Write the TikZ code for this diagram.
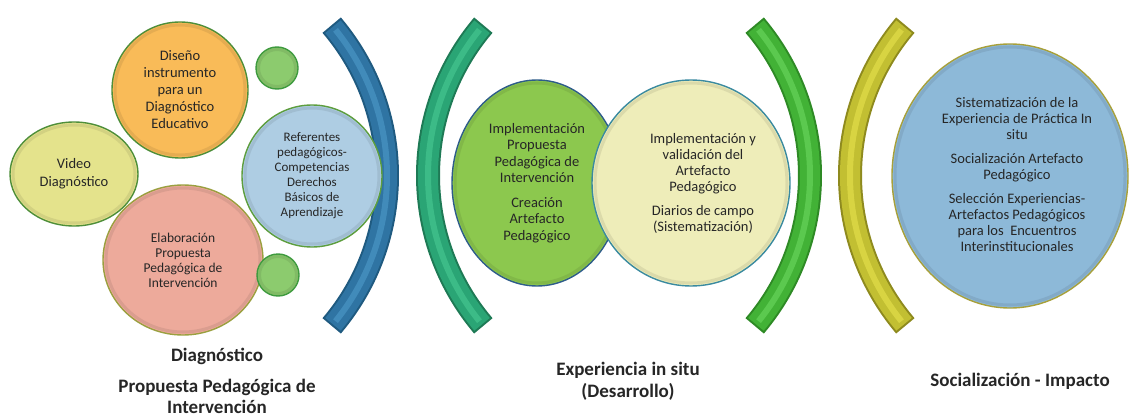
\documentclass[tikz,border=0pt]{standalone}
\usepackage{fontspec}
\setmainfont{Carlito}
\usetikzlibrary{shapes.geometric}
\definecolor{txt}{HTML}{262626}
\definecolor{orangeF}{HTML}{F9BB58}
\definecolor{greenB}{HTML}{4E8E3A}
\definecolor{smallF}{HTML}{8CCB6E}
\definecolor{smallB}{HTML}{3E9A3E}
\definecolor{videoF}{HTML}{E4E38C}
\definecolor{refF}{HTML}{AECDE3}
\definecolor{refB}{HTML}{5E9E3E}
\definecolor{pinkF}{HTML}{EDAA9B}
\definecolor{oliveB}{HTML}{9AA040}
\definecolor{midF}{HTML}{8CC84E}
\definecolor{midB}{HTML}{2E5C8A}
\definecolor{creamF}{HTML}{EEEDB9}
\definecolor{creamB}{HTML}{3A8AA0}
\definecolor{rightF}{HTML}{8DB9D8}
\definecolor{rightB}{HTML}{A8A03A}
\definecolor{blueO}{HTML}{1F5A80}\definecolor{blueM}{HTML}{2F74A3}\definecolor{blueS}{HTML}{4A95C5}
\definecolor{tealO}{HTML}{1E7A55}\definecolor{tealM}{HTML}{2AA575}\definecolor{tealS}{HTML}{45C58F}
\definecolor{grnO}{HTML}{2E8A25}\definecolor{grnM}{HTML}{42B236}\definecolor{grnS}{HTML}{66D35A}
\definecolor{yelO}{HTML}{8E8A1E}\definecolor{yelM}{HTML}{C2BF32}\definecolor{yelS}{HTML}{E2DE4A}
\newcommand\fsz[2]{\fontsize{#1}{#2}\selectfont}
% arc band: center x, start angle, end angle, outline, body, stripe
\newcommand\band[6]{%
  \draw[#4, line width=24pt, line cap=butt, line join=round]
    plot[domain=#2:#3, samples=80] ({#1+232*cos(\x)}, {175.5+232*sin(\x)});
  \draw[#5, line width=20pt, line cap=butt, line join=round]
    plot[domain=#2+0.5:#3-0.5, samples=80] ({#1+232*cos(\x)}, {175.5+232*sin(\x)});
  \draw[#6, line width=6pt, line cap=butt, line join=round, opacity=.7]
    plot[domain=#2+1.5:#3-1.5, samples=80] ({#1+232*cos(\x)}, {175.5+232*sin(\x)});
}
\newcommand\ring[4]{\draw[#4!78!black, line width=3pt, opacity=.35] (#1) ellipse [x radius=#2, y radius=#3];}
\begin{document}
\begin{tikzpicture}[x=1pt, y=-1pt,
  bub/.style={ellipse, inner sep=0pt, align=center, text=txt, line width=1.4pt},
  lbl/.style={align=center, text=txt}]
\useasboundingbox (0,0) rectangle (1129,417);
\fill[white] (0,0) rectangle (1129,417);

% arcs
\band{155}{-40.4}{40.4}{blueO}{blueM}{blueS}
\band{660}{139.6}{220.4}{tealO}{tealM}{tealS}
\band{578}{-40.4}{40.4}{grnO}{grnM}{grnS}
\band{1082}{139.6}{220.4}{yelO}{yelM}{yelS}

% left cluster
\node[bub, fill=videoF, draw=greenB, minimum width=128pt, minimum height=104pt, font=\fsz{14.5}{18}] (video) at (74,174) {Video\\Diagnóstico};
\ring{video.center}{61}{49}{videoF}
\node[bub, fill=orangeF, draw=greenB, minimum width=136pt, minimum height=136pt, font=\fsz{14.5}{17}] (diseno) at (180,90) {Diseño\\instrumento\\para un\\Diagnóstico\\Educativo};
\ring{diseno.center}{65}{65}{orangeF}
\node[bub, fill=pinkF, draw=oliveB, minimum width=160pt, minimum height=150pt, font=\fsz{13.5}{15}] (elab) at (183,260) {Elaboración\\Propuesta\\Pedagógica de\\Intervención};
\ring{elab.center}{77}{72}{pinkF}
\node[bub, fill=refF, draw=refB, minimum width=140pt, minimum height=142pt, font=\fsz{13}{15}] (refer) at (312,176) {Referentes\\pedagógicos-\\Competencias\\Derechos\\Básicos de\\Aprendizaje};
\ring{refer.center}{67}{68}{refF}
\node[bub, fill=smallF, draw=smallB, minimum width=42pt, minimum height=42pt] (dotA) at (277,68) {};
\ring{dotA.center}{18.5}{18.5}{smallF}
\node[bub, fill=smallF, draw=smallB, minimum width=42pt, minimum height=42pt] (dotB) at (278,275) {};
\ring{dotB.center}{18.5}{18.5}{smallF}

% middle cluster
\node[bub, fill=midF, draw=midB, minimum width=170pt, minimum height=206pt, font=\fsz{14.5}{16.5}] (impl) at (537,183) {Implementación\\Propuesta\\Pedagógica de\\Intervención\\[8pt]Creación\\Artefacto\\Pedagógico};
\ring{impl.center}{82}{100}{midF}
\node[bub, fill=creamF, draw=creamB, minimum width=198pt, minimum height=206pt] (valid) at (691,183) {};
\ring{valid.center}{96}{100}{creamF}
\node[align=center, text=txt, font=\fsz{14.5}{16}] (validtxt) at (703,183) {Implementación y\\validación del\\Artefacto\\Pedagógico\\[8pt]Diarios de campo\\(Sistematización)};

% right circle
\node[bub, fill=rightF, draw=rightB, minimum width=236pt, minimum height=264pt] (social) at (1010,176) {};
\ring{social.center}{115}{129}{rightF}
\node[align=center, text=txt, font=\fsz{14.5}{16}] (socialtxt) at (1017,175) {Sistematización de la\\Experiencia de Práctica In\\situ\\[8pt]Socialización Artefacto\\Pedagógico\\[8pt]Selección Experiencias-\\Artefactos Pedagógicos\\para los~ Encuentros\\Interinstitucionales};

% bottom labels
\node[lbl, font=\fsz{19}{21}\bfseries] (diag) at (217,356) {Diagnóstico};
\node[lbl, font=\fsz{19}{21}\bfseries] (prop) at (217,396) {Propuesta Pedagógica de\\Intervención};
\node[lbl, font=\fsz{19}{22}\bfseries] (exper) at (628,381) {Experiencia in situ\\(Desarrollo)};
\node[lbl, font=\fsz{19}{21}\bfseries] (socimp) at (1020,381) {Socialización - Impacto};
\end{tikzpicture}
\end{document}
